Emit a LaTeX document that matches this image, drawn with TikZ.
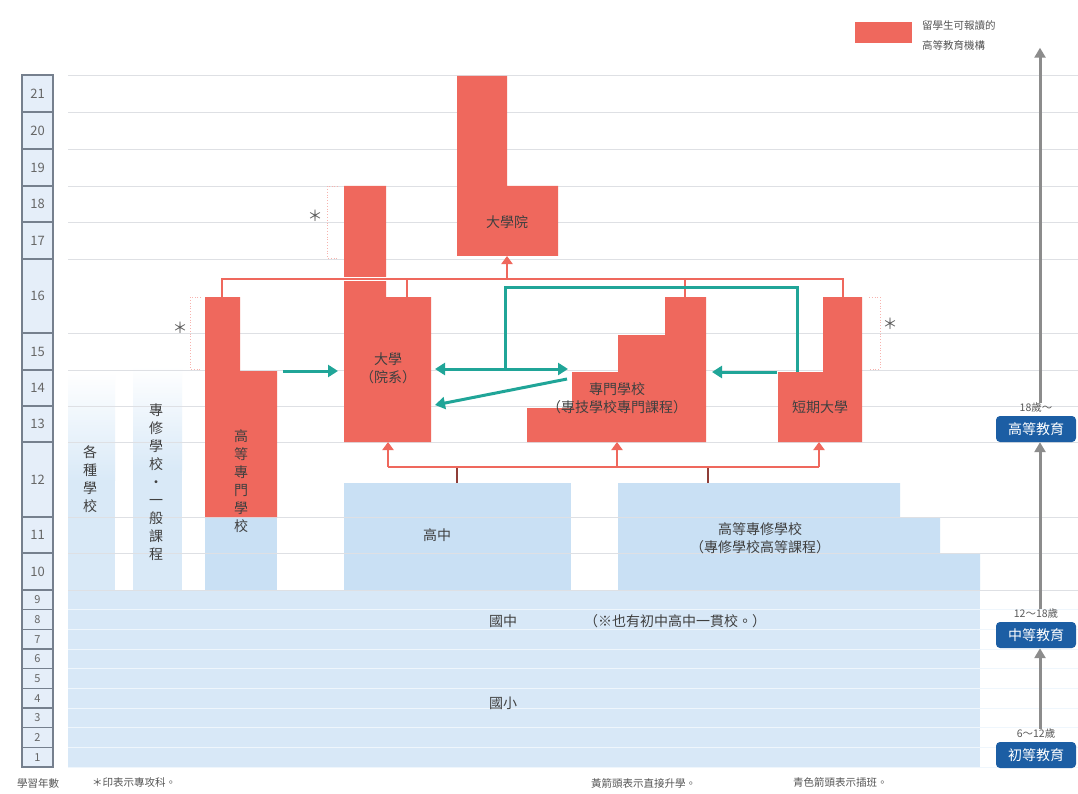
\documentclass[tikz,border=0pt]{standalone}
\usepackage{fontspec}
\setmainfont{Noto Sans CJK TC}
\usepackage{xcolor}
\usetikzlibrary{calc, arrows.meta, positioning}

\definecolor{unired}{RGB}{239,104,93}
\definecolor{schoolblue}{RGB}{201,224,244}
\definecolor{baseblue}{RGB}{216,232,247}
\definecolor{yearblue}{RGB}{229,238,249}
\definecolor{yeargrey}{RGB}{118,128,142}
\definecolor{transferteal}{RGB}{32,165,152}
\definecolor{gridgrey}{RGB}{222,224,228}
\definecolor{stagenavy}{RGB}{28,94,164}
\definecolor{textgrey}{RGB}{85,85,85}

\begin{document}
\begin{tikzpicture}[x=1pt, y=-1pt,
    every node/.style={inner sep=0pt, text=textgrey},
    year box/.style={draw=yeargrey, line width=1.1pt, fill=yearblue},
    year num/.style={font=\fontsize{13}{13}\selectfont, text=black!60},
    year num small/.style={font=\fontsize{11}{11}\selectfont, text=black!60},
    star/.style={font=\fontsize{15}{15}\selectfont, text=black!65},
    grid line/.style={draw=gridgrey, line width=0.8pt},
    block text/.style={font=\fontsize{14}{18}\selectfont, align=center, text=black!75},
    small text/.style={font=\fontsize{10.5}{13}\selectfont, text=textgrey},
    direct/.style={draw=unired, line width=2.2pt},
    direct arrow/.style={direct, -{Triangle[width=11pt, length=8pt]}},
    stub/.style={draw=unired!60!black, line width=1.4pt},
    transfer/.style={draw=transferteal, line width=3pt},
    transfer arrow/.style={transfer, -{Triangle[width=12pt, length=10pt]}},
    star bracket/.style={draw=unired!50, line width=0.8pt, dotted},
    stage/.style={fill=stagenavy, rounded corners=4pt, text=white, minimum width=80pt, minimum height=26pt, font=\fontsize{14}{15}\selectfont},
    stage age/.style={font=\fontsize{10.5}{12}\selectfont, text=black!65},
    stage arrow/.style={draw=black!45, line width=3pt, -{Triangle[width=11pt, length=10pt]}}]

    \useasboundingbox (0,0) rectangle (1078,794);
    \fill[white] (0,0) rectangle (1078,794);

    \def\topbus{279};
    \def\lowbus{467};
    \def\rowh{19.67};

    % blue part: compulsory schooling and upper secondary
    \fill[baseblue] (68,590) rectangle (980,767);
    \shade[top color=white, bottom color=schoolblue!70] (68,372) rectangle (115,480);
    \fill[schoolblue!70] (68,480) rectangle (115,590);
    \shade[top color=white, bottom color=schoolblue!70] (133,366) rectangle (182,470);
    \fill[schoolblue!70] (133,470) rectangle (182,590);
    \fill[schoolblue] (205,517) rectangle (277,590);
    \fill[schoolblue] (344,483) rectangle (571,590);
    \fill[schoolblue] (618,483) -- (900,483) -- (900,517) -- (940,517) -- (940,553)
        -- (980,553) -- (980,590) -- (618,590) -- cycle;

    \foreach \y in {75,112,149,186,222,259,333,370,406,442,517,553,590}
        \draw[grid line] (68,\y) -- (1078,\y);
    \foreach \k in {1,...,9}
        \draw[grid line, draw=white!70!schoolblue] (68,590+\k*\rowh) -- (1078,590+\k*\rowh);

    % years of study
    \foreach \yr/\ya/\yb in {21/75/112, 20/112/149, 19/149/186, 18/186/222, 17/222/259,
        16/259/333, 15/333/370, 14/370/406, 13/406/442, 12/442/517, 11/517/553, 10/553/590}{
        \draw[year box] (22,\ya) rectangle (53,\yb);
        \node[year num] at (37.5,{(\ya+\yb)/2}) {\yr};
    }
    \foreach \yr in {9,...,1}{
        \pgfmathsetmacro\ya{590+(9-\yr)*\rowh}
        \draw[year box] (22,\ya) rectangle (53,\ya+\rowh);
        \node[year num small] at (37.5,\ya+0.5*\rowh) {\yr};
    }

    % institutions open to international students
    \fill[unired] (205,297) -- (240,297) -- (240,371) -- (277,371) -- (277,517) -- (205,517) -- cycle;
    \fill[unired] (344,186) -- (386,186) -- (386,297) -- (431,297) -- (431,442) -- (344,442) -- cycle;
    \fill[unired] (457,76) -- (507,76) -- (507,186) -- (558,186) -- (558,256) -- (457,256) -- cycle;
    \fill[unired] (527,442) -- (527,408) -- (572,408) -- (572,372) -- (618,372) -- (618,335)
        -- (665,335) -- (665,297) -- (706,297) -- (706,442) -- cycle;
    \fill[unired] (778,372) -- (823,372) -- (823,297) -- (862,297) -- (862,442) -- (778,442) -- cycle;

    \node[block text] (misc school) at (90,479) {各\\種\\學\\校};
    \node[block text] (special general) at (156,482) {專\\修\\學\\校\\・\\一\\般\\課\\程};
    \node[block text] (kosen) at (241,481) {高\\等\\專\\門\\學\\校};
    \node[block text] (univ) at (388,368) {大學\\（院系）};
    \node[block text] (grad school) at (507,222) {大學院};
    \node[block text] (senmon) at (617,398) {專門學校\\（專技學校專門課程）};
    \node[block text] (tandai) at (820,407) {短期大學};
    \node[block text] (high school) at (437,535) {高中};
    \node[block text] (upper special) at (760,538) {高等專修學校\\（專修學校高等課程）};
    \node[block text] (junior high) at (503,621) {國中};
    \node[block text, anchor=west] (note) at (584,621) {（※也有初中高中一貫校。）};
    \node[block text] (primary) at (503,703) {國小};

    % direct progression
    \coordinate (kosen top) at (222,297);
    \coordinate (univ top) at (407,297);
    \coordinate (senmon top) at (685,297);
    \coordinate (tandai top) at (843,297);
    \coordinate (grad bottom) at (507,256);
    \coordinate (top bus) at (0,\topbus);
    \draw[direct, preaction={draw=white, line width=3.6pt}] (kosen top) |- (tandai top |- top bus) -- (tandai top);
    \draw[direct] (univ top) -- (univ top |- top bus);
    \draw[direct] (senmon top) -- (senmon top |- top bus);
    \draw[direct arrow] (grad bottom |- top bus) -- (grad bottom);

    \coordinate (univ bottom) at (388,442);
    \coordinate (senmon bottom) at (617,442);
    \coordinate (tandai bottom) at (819,442);
    \coordinate (high top) at (457,483);
    \coordinate (upper top) at (708,483);
    \coordinate (low bus) at (0,\lowbus);
    \draw[stub] (high top) -- (high top |- low bus);
    \draw[stub] (upper top) -- (upper top |- low bus);
    \draw[direct] (univ bottom |- low bus) -- (tandai bottom |- low bus);
    \foreach \c in {univ bottom, senmon bottom, tandai bottom}
        \draw[direct arrow] (\c |- low bus) -- (\c);

    % transfer
    \coordinate (kosen right) at (283,371);
    \coordinate (univ left) at (338,371);
    \coordinate (univ right) at (435,369);
    \coordinate (senmon left) at (568,369);
    \coordinate (senmon corner) at (567,379);
    \coordinate (univ low) at (435,405);
    \coordinate (tandai left) at (777,372);
    \coordinate (senmon right) at (712,372);
    \coordinate (junction) at (505,369);
    \draw[transfer arrow] (kosen right) -- (univ left);
    \draw[transfer arrow, {Triangle[width=12pt, length=10pt]}-{Triangle[width=12pt, length=10pt]}] (univ right) -- (senmon left);
    \draw[transfer arrow] (senmon corner) -- (univ low);
    \draw[transfer arrow] (tandai left) -- (senmon right);
    \draw[transfer] (797,372) -- (797,287) -| (junction);

    % specialised courses
    \draw[star bracket] (338,186) -- (327,186) -- (327,258) -- (338,258);
    \node[star] (star univ) at (315,216) {＊};
    \draw[star bracket] (201,297) -- (190,297) -- (190,369) -- (201,369);
    \node[star] (star kosen) at (180,328) {＊};
    \draw[star bracket] (869,297) -- (880,297) -- (880,369) -- (869,369);
    \node[star] (star tandai) at (890,324) {＊};

    % stages
    \node[stage] (higher ed) at (1036,429) {高等教育};
    \node[stage age, above=3pt of higher ed] (age higher) {18歲～};
    \node[stage] (secondary ed) at (1036,635) {中等教育};
    \node[stage age, above=3pt of secondary ed] (age secondary) {12～18歲};
    \node[stage] (primary ed) at (1036,755) {初等教育};
    \node[stage age, above=3pt of primary ed] (age primary) {6～12歲};
    \draw[stage arrow] ([xshift=4pt]age higher.north) -- ++(0,-355);
    \draw[stage arrow] ([xshift=4pt]age secondary.north) -- ([xshift=4pt]higher ed.south);
    \draw[stage arrow] ([xshift=4pt]age primary.north) -- ([xshift=4pt]secondary ed.south);

    % legend
    \fill[unired] (855,22) rectangle (912,43);
    \node[small text, anchor=west] (legend a) at (922,26) {留學生可報讀的};
    \node[small text, anchor=west] (legend b) at (922,45) {高等教育機構};
    \node[small text] (years) at (38,783) {學習年數};
    \node[small text, anchor=west] (star note) at (92,783) {＊印表示專攻科。};
    \node[small text, anchor=west] (red note) at (591,783) {黃箭頭表示直接升學。};
    \node[small text, anchor=west] (teal note) at (793,783) {青色箭頭表示插班。};
\end{tikzpicture}
\end{document}
